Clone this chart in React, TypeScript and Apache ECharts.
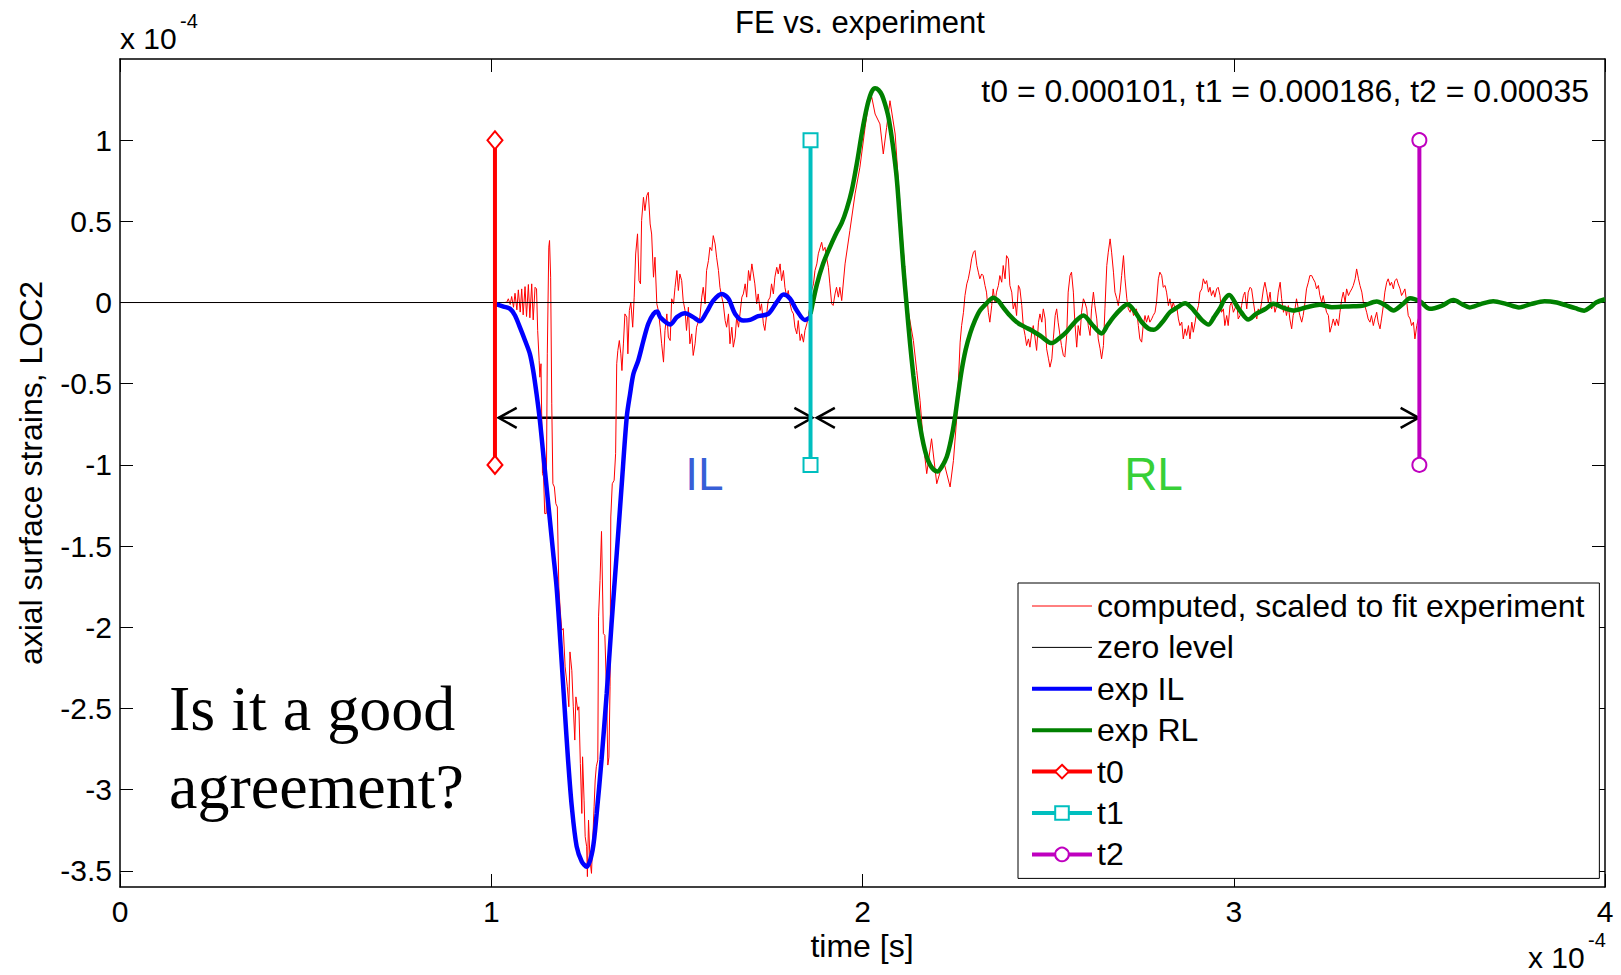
import React, { useEffect, useRef } from "react";
import * as echarts from "echarts";

// Units: time in 1e-4 s, strain in 1e-4
const xTicks = [0, 1, 2, 3, 4];
const yTicks = [-3.5, -3, -2.5, -2, -1.5, -1, -0.5, 0, 0.5, 1];

const computed: [number, number][] = [
  [0, 0], [1.035, 0],
  [1.042, 0.002], [1.046, 0.023], [1.051, -0.012], [1.055, 0.037], [1.06, -0.029], [1.064, 0.057], [1.069, -0.045],
  [1.073, 0.078], [1.078, -0.059], [1.082, 0.084], [1.086, -0.076], [1.091, 0.098], [1.095, -0.086], [1.1, 0.111],
  [1.104, -0.094], [1.109, 0.115], [1.113, -0.107], [1.118, 0.094], [1.122, 0.084],
  [1.125, -0.172], [1.129, -0.357], [1.131, -0.46], [1.134, -0.377], [1.138, -1.054], [1.141, -1.075], [1.144, -1.3],
  [1.148, -1.3], [1.151, -0.316], [1.155, 0.341], [1.157, 0.382], [1.16, 0.156], [1.163, -0.624], [1.166, -1.116],
  [1.17, -1.136], [1.174, -1.239], [1.178, -1.259], [1.182, -1.752],
  [1.186, -1.9], [1.19, -2.018], [1.194, -2.008], [1.199, -2.244], [1.205, -2.367], [1.209, -2.49], [1.212, -2.152],
  [1.217, -2.265], [1.221, -2.49], [1.225, -2.695], [1.228, -2.429], [1.233, -2.511], [1.236, -2.49], [1.24, -2.839],
  [1.244, -3.147], [1.246, -2.798], [1.25, -3.065], [1.253, -3.29], [1.257, -3.352], [1.259, -3.536], [1.262, -3.188],
  [1.266, -3.434], [1.27, -3.516], [1.273, -3.331], [1.277, -3.106], [1.28, -2.941], [1.283, -2.859], [1.287, -2.818],
  [1.289, -1.936], [1.293, -1.711], [1.297, -1.41], [1.302, -2.039], [1.306, -2.05], [1.311, -2.429], [1.314, -2.849],
  [1.317, -2.8], [1.32, -2.367], [1.322, -1.321], [1.326, -1.116], [1.331, -1.095], [1.335, -0.931], [1.338, -0.377],
  [1.341, -0.295], [1.345, -0.234], [1.349, -0.316], [1.352, -0.419], [1.356, -0.255], [1.36, -0.07], [1.365, -0.09],
  [1.368, -0.316], [1.372, -0.049], [1.376, 0.002], [1.381, -0.152], [1.385, 0.033], [1.389, 0.299], [1.394, 0.423],
  [1.398, 0.135], [1.402, 0.115],
  [1.405, 0.505], [1.41, 0.648], [1.414, 0.566], [1.419, 0.658], [1.423, 0.679], [1.428, 0.484], [1.432, 0.422],
  [1.437, 0.156], [1.441, 0.279], [1.446, -0.008], [1.45, -0.049], [1.455, -0.152], [1.459, -0.254], [1.464, -0.367],
  [1.468, -0.172], [1.473, -0.07], [1.477, -0.213], [1.482, -0.234], [1.486, 0.023], [1.491, -0.008], [1.495, 0.094],
  [1.5, 0.197], [1.504, 0.074], [1.508, 0.176], [1.513, 0.135], [1.517, 0.012], [1.522, -0.049], [1.526, -0.172],
  [1.531, -0.029], [1.535, -0.254], [1.54, -0.193], [1.544, -0.326], [1.549, -0.254], [1.553, -0.152], [1.562, -0.09],
  [1.567, 0.033], [1.571, 0.094], [1.576, -0.008], [1.58, 0.197], [1.585, 0.258], [1.589, 0.34], [1.594, 0.32],
  [1.598, 0.412], [1.603, 0.361], [1.607, 0.279], [1.612, 0.197], [1.616, 0.094], [1.621, 0.033], [1.625, -0.008],
  [1.63, -0.111], [1.634, -0.152], [1.639, -0.07], [1.643, -0.254], [1.648, -0.152], [1.652, -0.275], [1.657, -0.213],
  [1.661, -0.09], [1.666, -0.152], [1.67, -0.07], [1.675, 0.033], [1.679, 0.053], [1.684, 0.115], [1.688, 0.033],
  [1.693, 0.197], [1.697, 0.135], [1.702, 0.238], [1.706, 0.176], [1.71, 0.115], [1.715, -0.008], [1.719, 0.053],
  [1.724, -0.049], [1.728, -0.008], [1.733, -0.131], [1.737, -0.172], [1.742, -0.07], [1.746, 0.012], [1.751, 0.033],
  [1.755, 0.115], [1.76, 0.053], [1.764, 0.156], [1.769, 0.217], [1.773, 0.176], [1.778, 0.238], [1.782, 0.135],
  [1.787, 0.197], [1.791, 0.094], [1.796, 0.033], [1.8, 0.074], [1.805, -0.008], [1.809, -0.049], [1.814, -0.07],
  [1.818, -0.152], [1.823, -0.193], [1.827, -0.111], [1.832, -0.234], [1.836, -0.193], [1.841, -0.244], [1.845, -0.172],
  [1.85, -0.131], [1.854, -0.09], [1.859, -0.008], [1.863, 0.074], [1.868, 0.115], [1.872, 0.197], [1.877, 0.238],
  [1.881, 0.3], [1.886, 0.34], [1.89, 0.371], [1.894, 0.32], [1.899, 0.34], [1.903, 0.279], [1.908, 0.217],
  [1.912, 0.115], [1.917, -0.008], [1.921, -0.018], [1.926, 0.053], [1.93, 0.094], [1.935, 0.033], [1.939, 0.094],
  [1.944, 0.012], [1.953, 0.238], [1.966, 0.443], [1.98, 0.669], [1.993, 0.833], [2.007, 1.079], [2.016, 1.223],
  [2.025, 1.264], [2.034, 1.161], [2.047, 1.1], [2.056, 0.915], [2.065, 1.079], [2.074, 1.243], [2.088, 1.038],
  [2.097, 0.73], [2.11, 0.32], [2.123, -0.049], [2.137, -0.234], [2.146, -0.418], [2.155, -0.603], [2.164, -0.87],
  [2.173, -1.054], [2.186, -0.839], [2.2, -1.116], [2.218, -0.972], [2.236, -1.136], [2.245, -0.972], [2.254, -0.705],
  [2.263, -0.244], [2.267, -0.142], [2.272, -0.06], [2.276, 0.043], [2.281, 0.115], [2.285, 0.146], [2.29, 0.207],
  [2.294, 0.269], [2.299, 0.31], [2.303, 0.32], [2.308, 0.228], [2.312, 0.187], [2.316, 0.146], [2.321, 0.176],
  [2.325, 0.166], [2.33, 0.105], [2.334, 0.064], [2.339, -0.06], [2.343, -0.121], [2.348, -0.019], [2.352, 0.084],
  [2.357, 0.002], [2.361, 0.064], [2.366, 0.105], [2.37, 0.166], [2.375, 0.125], [2.379, 0.228], [2.384, 0.146],
  [2.388, 0.289], [2.393, 0.269], [2.397, 0.105], [2.402, 0.064], [2.406, -0.039], [2.411, 0.002], [2.415, -0.08],
  [2.42, 0.105], [2.424, 0.084], [2.429, -0.019], [2.433, -0.142], [2.438, -0.203], [2.442, -0.265], [2.447, -0.224],
  [2.451, -0.275], [2.456, -0.183], [2.46, -0.142], [2.465, -0.224], [2.469, -0.295], [2.474, -0.121], [2.478, -0.07],
  [2.483, -0.121], [2.487, -0.039], [2.492, -0.101], [2.496, -0.285], [2.501, -0.347], [2.505, -0.398], [2.51, -0.347],
  [2.514, -0.224], [2.519, -0.08], [2.523, -0.039], [2.527, -0.121], [2.532, -0.203], [2.536, -0.265], [2.541, -0.326],
  [2.545, -0.336], [2.55, -0.203], [2.554, 0.064], [2.559, 0.166], [2.563, 0.187], [2.568, 0.064], [2.572, -0.121],
  [2.577, -0.275], [2.581, -0.142], [2.586, -0.203], [2.59, -0.06], [2.595, 0.023], [2.599, 0.002], [2.604, -0.039],
  [2.608, -0.142], [2.613, -0.203], [2.617, -0.039], [2.622, 0.064], [2.626, -0.019], [2.631, -0.101], [2.635, -0.224],
  [2.64, -0.285], [2.644, -0.347], [2.649, -0.265], [2.653, -0.039], [2.658, 0.228], [2.662, 0.31], [2.667, 0.392],
  [2.671, 0.31], [2.676, 0.187], [2.68, 0.064], [2.685, 0.023], [2.689, -0.019], [2.694, 0.064], [2.698, 0.166],
  [2.703, 0.289], [2.707, 0.146], [2.712, 0.023], [2.716, -0.039], [2.721, -0.06], [2.725, -0.019], [2.73, -0.08],
  [2.734, -0.06], [2.738, -0.039], [2.743, -0.142], [2.747, -0.224], [2.752, -0.244], [2.756, -0.142], [2.761, -0.08],
  [2.765, -0.121], [2.77, -0.08], [2.774, -0.121], [2.779, -0.101], [2.783, -0.08], [2.788, -0.06], [2.792, 0.002],
  [2.797, 0.146], [2.801, 0.187], [2.806, 0.166], [2.81, 0.094], [2.815, 0.105], [2.819, 0.064], [2.824, -0.019],
  [2.828, 0.023], [2.833, -0.039], [2.837, 0.002], [2.842, -0.039], [2.846, -0.019], [2.851, -0.101], [2.855, -0.142],
  [2.86, -0.121], [2.864, -0.224], [2.869, -0.162], [2.873, -0.203], [2.878, -0.142], [2.882, -0.224], [2.887, -0.121],
  [2.891, -0.183], [2.896, -0.121], [2.9, -0.06], [2.905, -0.019], [2.909, 0.064], [2.914, 0.084], [2.918, 0.146],
  [2.923, 0.115], [2.927, 0.135], [2.932, 0.064], [2.936, 0.094], [2.94, 0.043], [2.945, 0.074], [2.949, 0.033],
  [2.954, 0.084], [2.958, 0.094], [2.963, 0.043], [2.967, -0.06], [2.972, -0.039], [2.976, -0.142], [2.981, -0.08],
  [2.985, -0.142], [2.99, -0.019], [2.994, 0.002], [2.999, -0.06], [3.003, -0.039], [3.008, 0.002], [3.012, -0.101],
  [3.017, -0.08], [3.021, -0.019], [3.026, 0.043], [3.03, 0.064], [3.035, -0.039], [3.039, 0.064], [3.044, 0.094],
  [3.048, 0.084], [3.053, 0.002], [3.057, -0.06], [3.062, -0.101], [3.066, -0.039], [3.071, -0.06], [3.075, 0.002],
  [3.08, 0.084], [3.084, 0.125], [3.089, 0.064], [3.093, 0.002], [3.098, 0.064], [3.102, -0.039], [3.107, 0.002],
  [3.111, -0.06], [3.116, -0.019], [3.12, 0.064], [3.125, 0.125], [3.129, 0.023], [3.134, -0.06], [3.138, -0.019],
  [3.142, -0.08], [3.147, -0.019], [3.151, -0.101], [3.156, -0.162], [3.16, -0.08], [3.165, -0.039], [3.169, 0.023],
  [3.174, -0.039], [3.178, -0.08], [3.183, -0.121], [3.187, -0.08], [3.192, 0.002], [3.196, 0.084], [3.201, 0.125],
  [3.205, 0.166], [3.21, 0.166], [3.214, 0.146], [3.219, 0.125], [3.223, 0.084], [3.228, 0.105], [3.232, 0.043],
  [3.237, 0.002], [3.241, 0.043], [3.246, -0.019], [3.25, -0.06], [3.255, -0.08], [3.259, -0.183], [3.264, -0.142],
  [3.268, -0.101], [3.273, -0.142], [3.277, -0.101], [3.282, -0.142], [3.286, -0.06], [3.291, 0.023], [3.295, 0.064],
  [3.3, 0.002], [3.304, 0.084], [3.309, 0.043], [3.313, 0.064], [3.318, 0.084], [3.322, 0.105], [3.327, 0.146],
  [3.331, 0.207], [3.336, 0.146], [3.34, 0.105], [3.345, 0.064], [3.349, 0.002], [3.353, -0.019], [3.358, -0.06],
  [3.362, -0.101], [3.367, -0.121], [3.371, -0.08], [3.376, -0.142], [3.38, -0.101], [3.385, -0.06], [3.389, -0.121],
  [3.394, -0.162], [3.398, -0.101], [3.403, -0.019], [3.407, 0.064], [3.412, 0.125], [3.416, 0.146], [3.421, 0.105],
  [3.425, 0.125], [3.43, 0.084], [3.434, 0.135], [3.439, 0.146], [3.443, 0.115], [3.448, 0.084], [3.452, 0.043],
  [3.457, 0.064], [3.461, 0.084], [3.466, 0.002], [3.47, -0.08], [3.475, -0.101], [3.479, -0.142], [3.484, -0.121],
  [3.488, -0.224], [3.493, -0.142], [3.497, -0.101], [3.5, -0.08],
];

const expIL: [number, number][] = [
  [1.01, -0.008], [1.033, -0.025], [1.051, -0.039], [1.064, -0.08], [1.077, -0.152], [1.091, -0.234], [1.104, -0.316],
  [1.113, -0.419], [1.122, -0.562], [1.131, -0.726], [1.14, -0.931], [1.149, -1.136], [1.158, -1.341], [1.167, -1.547],
  [1.176, -1.752], [1.185, -2.05], [1.198, -2.51], [1.207, -2.82], [1.217, -3.106], [1.23, -3.35], [1.244, -3.444],
  [1.257, -3.475], [1.273, -3.372], [1.284, -3.147], [1.297, -2.818], [1.311, -2.408], [1.324, -1.98], [1.338, -1.547],
  [1.351, -1.136], [1.365, -0.705], [1.374, -0.562], [1.383, -0.439], [1.396, -0.357], [1.41, -0.234], [1.423, -0.131],
  [1.437, -0.07], [1.447, -0.055], [1.455, -0.09], [1.482, -0.135], [1.5, -0.09], [1.522, -0.066], [1.544, -0.09],
  [1.562, -0.115], [1.58, -0.059], [1.598, 0.012], [1.621, 0.053], [1.639, 0.023], [1.657, -0.07], [1.679, -0.111],
  [1.697, -0.107], [1.719, -0.084], [1.746, -0.07], [1.769, 0.002], [1.787, 0.049], [1.805, 0.023], [1.823, -0.049],
  [1.845, -0.107], [1.86, -0.09],
];

const expRL: [number, number][] = [
  [1.86, -0.07], [1.877, 0.11], [1.894, 0.24], [1.912, 0.34], [1.93, 0.43], [1.944, 0.49], [1.958, 0.58], [1.971, 0.69],
  [1.985, 0.86], [1.998, 1.04], [2.007, 1.15], [2.016, 1.24], [2.025, 1.3], [2.034, 1.32], [2.043, 1.31], [2.052, 1.28],
  [2.061, 1.22], [2.07, 1.14], [2.081, 0.98], [2.092, 0.77], [2.101, 0.5], [2.11, 0.22], [2.119, -0.02], [2.128, -0.25],
  [2.137, -0.45], [2.146, -0.62], [2.155, -0.76], [2.164, -0.87], [2.173, -0.95], [2.182, -1.0], [2.192, -1.03],
  [2.202, -1.04], [2.214, -1.01], [2.227, -0.95], [2.238, -0.85], [2.249, -0.71], [2.258, -0.56], [2.267, -0.42],
  [2.278, -0.29], [2.29, -0.19], [2.303, -0.11], [2.316, -0.05], [2.334, -0.005], [2.352, 0.03], [2.366, 0.01],
  [2.379, -0.03], [2.397, -0.08], [2.415, -0.12], [2.437, -0.15], [2.456, -0.172], [2.478, -0.203], [2.51, -0.25],
  [2.53, -0.22], [2.55, -0.18], [2.572, -0.12], [2.595, -0.08], [2.62, -0.14], [2.644, -0.19], [2.66, -0.14],
  [2.676, -0.09], [2.696, -0.04], [2.714, -0.01], [2.735, -0.06], [2.752, -0.12], [2.77, -0.16], [2.785, -0.168],
  [2.808, -0.12], [2.828, -0.06], [2.848, -0.03], [2.869, -0.005], [2.885, -0.03], [2.9, -0.07], [2.915, -0.11],
  [2.932, -0.136], [2.947, -0.09], [2.963, -0.035], [2.975, 0.02], [2.988, 0.047], [3.008, -0.019], [3.02, -0.06],
  [3.039, -0.105], [3.06, -0.07], [3.085, -0.04], [3.107, -0.008], [3.13, -0.03], [3.16, -0.049], [3.196, -0.029],
  [3.232, -0.014], [3.264, -0.029], [3.3, -0.025], [3.322, -0.023], [3.349, -0.019], [3.385, 0.006], [3.41, -0.02],
  [3.43, -0.049], [3.455, -0.01], [3.475, 0.027], [3.502, 0.006], [3.528, -0.039], [3.56, -0.02], [3.592, 0.015],
  [3.615, -0.01], [3.635, -0.03], [3.665, -0.01], [3.699, 0.008], [3.735, -0.01], [3.768, -0.03], [3.8, -0.01],
  [3.837, 0.008], [3.87, 0.0], [3.896, -0.018], [3.92, -0.035], [3.944, -0.05], [3.96, -0.03], [3.976, 0.0], [4.0, 0.02],
];

const zeroLevel: [number, number][] = [[0, 0], [4, 0]];
const t0 = 1.01;
const t1 = 1.86;
const t2 = 3.5;
const markerEnds = [-1, 1];
// [start, end, level] of the double arrows
const arrows: [number, number, number][] = [
  [1.02, 1.865, -0.71],
  [1.877, 3.498, -0.71],
];
const regionLabels = [
  { name: "IL", value: [1.574, -1.055], color: "#0033cc" },
  { name: "RL", value: [2.784, -1.055], color: "#00c400" },
];

const FONT = "'Liberation Sans', Arial, Helvetica, sans-serif";
const SERIF = "'Liberation Serif', 'Times New Roman', serif";

function vline(t: number): [number, number][] {
  return markerEnds.map((v) => [t, v] as [number, number]);
}

export default function App() {
  const ref = useRef<HTMLDivElement>(null);
  useEffect(() => {
    if (!ref.current) return;
    const chart = echarts.init(ref.current, undefined, { renderer: "svg" });
    const axisLine = { show: true, onZero: false, lineStyle: { color: "#000", width: 1.5 } };
    const tick = { show: true, inside: true, length: 13, lineStyle: { color: "#000", width: 1 } };
    const option: any = {
      animation: false,
      backgroundColor: "#fff",
      grid: { left: 120, top: 59, width: 1485, height: 828, show: false },
      xAxis: [
        {
          type: "value", position: "bottom", min: 0, max: 4, interval: 1,
          axisLine, axisTick: tick,
          axisLabel: { fontSize: 30, color: "#000", fontFamily: FONT, margin: 9, formatter: (v: number) => String(v) },
          splitLine: { show: false },
        },
        {
          type: "value", position: "top", min: 0, max: 4, interval: 1,
          axisLine, axisTick: tick, axisLabel: { show: false }, splitLine: { show: false },
        },
      ],
      yAxis: [
        {
          type: "value", position: "left", min: -3.6, max: 1.5,
          axisLine, axisTick: { ...tick, customValues: yTicks },
          axisLabel: { customValues: yTicks, fontSize: 30, color: "#000", fontFamily: FONT, margin: 8, formatter: (v: number) => String(v) },
          splitLine: { show: false },
        },
        {
          type: "value", position: "right", min: -3.6, max: 1.5,
          axisLine, axisTick: { ...tick, customValues: yTicks }, axisLabel: { show: false }, splitLine: { show: false },
        },
      ],
      legend: {
        orient: "vertical", left: 1018, top: 583,
        padding: [7, 15, 8, 12], itemGap: 9.4, itemWidth: 60, itemHeight: 17,
        backgroundColor: "#fff", borderColor: "#000", borderWidth: 1, borderRadius: 0,
        selectedMode: false,
        textStyle: { fontSize: 32, fontFamily: FONT, color: "#000", lineHeight: 32 },
        data: [
          { name: "computed, scaled to fit experiment", itemStyle: { opacity: 0 }, lineStyle: { width: 1 } },
          { name: "zero level", itemStyle: { opacity: 0 }, lineStyle: { width: 1 } },
          { name: "exp IL", itemStyle: { opacity: 0 }, lineStyle: { width: 4 } },
          { name: "exp RL", itemStyle: { opacity: 0 }, lineStyle: { width: 4 } },
          { name: "t0", lineStyle: { width: 4 } },
          { name: "t1", lineStyle: { width: 4 } },
          { name: "t2", lineStyle: { width: 4 } },
        ],
      },
      series: [
        {
          name: "computed, scaled to fit experiment", type: "line", data: computed, symbol: "none",
          color: "#ff0000", lineStyle: { color: "#ff0000", width: 1 },
        },
        {
          name: "zero level", type: "line", data: zeroLevel, symbol: "none",
          color: "#000", lineStyle: { color: "#000", width: 1 },
        },
        {
          name: "exp IL", type: "line", data: expIL, symbol: "none", smooth: 0.3,
          color: "#0000ff", lineStyle: { color: "#0000ff", width: 4.5 },
        },
        {
          name: "exp RL", type: "line", data: expRL, symbol: "none", smooth: 0.3,
          color: "#008000", lineStyle: { color: "#008000", width: 4.5 },
        },
        {
          name: "t0", type: "line", data: vline(t0), symbol: "emptyDiamond", symbolSize: [15, 18],
          color: "#ff0000", lineStyle: { color: "#ff0000", width: 4 }, itemStyle: { color: "#ff0000", borderWidth: 3.5 },
        },
        {
          name: "t1", type: "line", data: vline(t1), symbol: "emptyRect", symbolSize: 14,
          color: "#00bfbf", lineStyle: { color: "#00bfbf", width: 4 }, itemStyle: { color: "#00bfbf", borderWidth: 3.5 },
        },
        {
          name: "t2", type: "line", data: vline(t2), symbol: "emptyCircle", symbolSize: 14,
          color: "#bf00bf", lineStyle: { color: "#bf00bf", width: 4 }, itemStyle: { color: "#bf00bf", borderWidth: 3.5 },
        },
        {
          type: "custom", data: arrows, encode: { x: [0, 1], y: 2 }, silent: true,
          renderItem: (_p: any, api: any) => {
            const lvl = api.value(2);
            const a = api.coord([api.value(0), lvl]);
            const b = api.coord([api.value(1), lvl]);
            const h = 18, w = 10;
            const st = { stroke: "#000", lineWidth: 2.5, fill: null };
            return {
              type: "group",
              children: [
                { type: "line", shape: { x1: a[0], y1: a[1], x2: b[0], y2: b[1] }, style: st },
                { type: "polyline", shape: { points: [[a[0] + h, a[1] - w], [a[0], a[1]], [a[0] + h, a[1] + w]] }, style: st },
                { type: "polyline", shape: { points: [[b[0] - h, b[1] - w], [b[0], b[1]], [b[0] - h, b[1] + w]] }, style: st },
              ],
            };
          },
        },
        {
          type: "scatter", symbolSize: 0, silent: true,
          data: regionLabels.map((r) => ({
            name: r.name, value: r.value,
            label: { show: true, position: "inside", formatter: "{b}", color: r.color, fontSize: 46, fontFamily: FONT },
          })),
        },
      ],
      graphic: [
        { type: "text", x: 860, y: 22.6, style: { text: "FE vs. experiment", fontSize: 31, fontFamily: FONT, fill: "#000", align: "center", verticalAlign: "middle" } },
        { type: "text", x: 120, y: 38, style: { text: "x 10", fontSize: 30, fontFamily: FONT, fill: "#000", align: "left", verticalAlign: "middle" } },
        { type: "text", x: 180, y: 21, style: { text: "-4", fontSize: 20, fontFamily: FONT, fill: "#000", align: "left", verticalAlign: "middle" } },
        { type: "text", x: 1528, y: 957, style: { text: "x 10", fontSize: 30, fontFamily: FONT, fill: "#000", align: "left", verticalAlign: "middle" } },
        { type: "text", x: 1588, y: 940, style: { text: "-4", fontSize: 20, fontFamily: FONT, fill: "#000", align: "left", verticalAlign: "middle" } },
        { type: "text", x: 862, y: 946, style: { text: "time [s]", fontSize: 32, fontFamily: FONT, fill: "#000", align: "center", verticalAlign: "middle" } },
        { type: "text", x: 31, y: 473, rotation: Math.PI / 2, style: { text: "axial surface strains, LOC2", fontSize: 32, fontFamily: FONT, fill: "#000", align: "center", verticalAlign: "middle" } },
        { type: "text", x: 1589, y: 91, style: { text: "t0 = 0.000101, t1 = 0.000186, t2 = 0.00035", fontSize: 32, fontFamily: FONT, fill: "#000", align: "right", verticalAlign: "middle" } },
        { type: "text", x: 169, y: 708, style: { text: "Is it a good", fontSize: 64, fontFamily: SERIF, fill: "#000", align: "left", verticalAlign: "middle" } },
        { type: "text", x: 169, y: 786, style: { text: "agreement?", fontSize: 64, fontFamily: SERIF, fill: "#000", align: "left", verticalAlign: "middle" } },
      ],
    };
    chart.setOption(option);
    return () => chart.dispose();
  }, []);
  return (
    <div
      ref={ref}
      style={{ position: "fixed", left: 0, top: 0, width: 1621, height: 975, background: "#fff" }}
    />
  );
}
